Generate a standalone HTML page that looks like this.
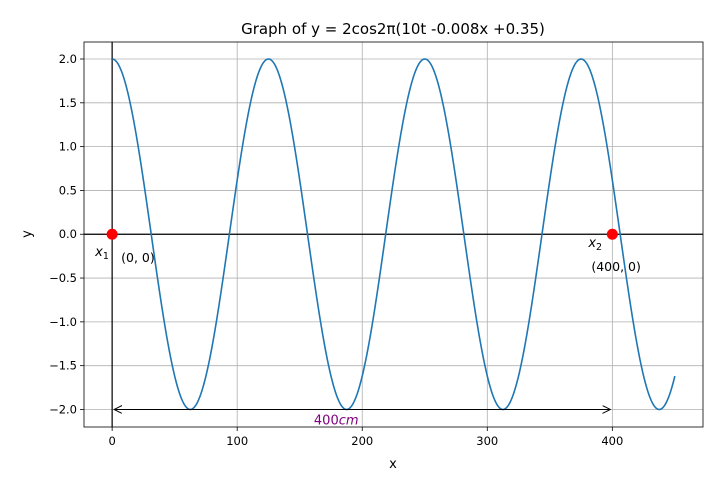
<!DOCTYPE html>
<html><head><meta charset="utf-8"><style>
html,body{margin:0;padding:0;background:#fff;}
svg{display:block;font-family:"DejaVu Sans","Liberation Sans",sans-serif;}
</style></head><body>
<svg id="chart" width="722" height="490" viewBox="0 0 722 490">
<defs>
<marker id="ah" markerWidth="10" markerHeight="10" refX="8" refY="4" orient="auto-start-reverse" markerUnits="userSpaceOnUse">
<path d="M0,0 L8,4 L0,8" fill="none" stroke="#000" stroke-width="1"/>
</marker>
</defs>
<g id="grid"></g>
<g id="axes"></g>
<g id="plot"></g>
<text x="393" y="34" font-size="15" text-anchor="middle">Graph of y = 2cos2π(10t -0.008x +0.35)</text>
<text x="393" y="468" font-size="13" text-anchor="middle">x</text>
<text x="31" y="234" font-size="13" text-anchor="middle" transform="rotate(-90 31 234)">y</text>
</svg>
<script>
const xTicks=[0,100,200,300,400];
const yTicks=[-2.0,-1.5,-1.0,-0.5,0.0,0.5,1.0,1.5,2.0];
const amplitude=[2];
const waveNumber=[0.008];
const xRange=[0,450];
const markerX=[0,400];
const markerY=[0,0];
const markerLabels=["(0, 0)","(400, 0)"];
const distance=[400];

const L=84,R=703,T=42,B=427;
const xmin=-22.5,xmax=472.5,ymin=-2.2,ymax=2.194;
const sx=v=>L+(v-xmin)/(xmax-xmin)*(R-L);
const sy=v=>B-(v-ymin)/(ymax-ymin)*(B-T);
const NS="http://www.w3.org/2000/svg";
function mk(tag,attrs,parent,text){const e=document.createElementNS(NS,tag);for(const k in attrs)e.setAttribute(k,attrs[k]);if(text!==undefined)e.textContent=text;parent.appendChild(e);return e;}
const grid=document.getElementById('grid'),axes=document.getElementById('axes'),plot=document.getElementById('plot');
xTicks.forEach(t=>{
  const g=mk('line',{x1:sx(t),x2:sx(t),y1:T,y2:B,stroke:'#b0b0b0','stroke-width':0.8},grid);
  
  
  mk('line',{x1:sx(t),x2:sx(t),y1:B,y2:B+4,stroke:'#000','stroke-width':0.8},axes);
  const lb=mk('text',{x:sx(t),y:B+18,'font-size':11.5,'text-anchor':'middle'},axes,String(t));
  
  
});
yTicks.forEach(t=>{
  const g=mk('line',{x1:L,x2:R,y1:sy(t),y2:sy(t),stroke:'#b0b0b0','stroke-width':0.8},grid);
  
  
  mk('line',{x1:L-4,x2:L,y1:sy(t),y2:sy(t),stroke:'#000','stroke-width':0.8},axes);
  const lb=mk('text',{x:L-7,y:sy(t)+4,'font-size':11.5,'text-anchor':'end'},axes,(t<0?'\u2212'+(-t).toFixed(1):t.toFixed(1)));
  
  
});
mk('rect',{x:L,y:T,width:R-L,height:B-T,fill:'none',stroke:'#000','stroke-width':0.8},axes);
mk('line',{x1:L,x2:R,y1:sy(0),y2:sy(0),stroke:'#000','stroke-width':1.2},plot);
mk('line',{x1:sx(0),x2:sx(0),y1:T,y2:B,stroke:'#000','stroke-width':1.2},plot);
let d='';
for(let i=0;i<=900;i++){const x=xRange[0]+(xRange[1]-xRange[0])*i/900;const y=amplitude[0]*Math.cos(2*Math.PI*waveNumber[0]*x);d+=(i?'L':'M')+sx(x).toFixed(2)+','+sy(y).toFixed(2);}
const c=mk('path',{d:d,fill:'none',stroke:'#1f77b4','stroke-width':1.6},plot);


const ar=mk('line',{x1:sx(0)+2,x2:sx(distance[0])-2,y1:sy(-2.0),y2:sy(-2.0),stroke:'#000','stroke-width':1,'marker-start':'url(#ah)','marker-end':'url(#ah)'},plot);


const dl=mk('text',{x:sx(distance[0]/2)-26,y:sy(-2.0)+15,'font-size':13,fill:'#800080','text-anchor':'middle'},plot);


mk('tspan',{},dl,String(distance[0]));
mk('tspan',{'font-style':'italic'},dl,'cm');
markerX.forEach((mx,i)=>{
  const p=mk('circle',{cx:sx(mx),cy:sy(markerY[i]),r:5.5,fill:'#ff0000'},plot);
  
  
  const lx=i===0?sx(mx)+9:sx(mx)-21, ly=i===0?sy(markerY[i])+28:sy(markerY[i])+37;
  const t=mk('text',{x:lx,y:ly,'font-size':12.5},plot,markerLabels[i]);
  
  
  const sxl=i===0?sx(mx)-17:sx(mx)-24, syl=i===0?sy(0)+22:sy(0)+13;
  const s=mk('text',{x:sxl,y:syl,'font-size':13,'font-style':'italic'},plot);
  
  
  mk('tspan',{},s,'x');
  mk('tspan',{'font-size':9.5,'font-style':'normal',dy:3},s,String(i+1));
});
</script>
</body></html>
